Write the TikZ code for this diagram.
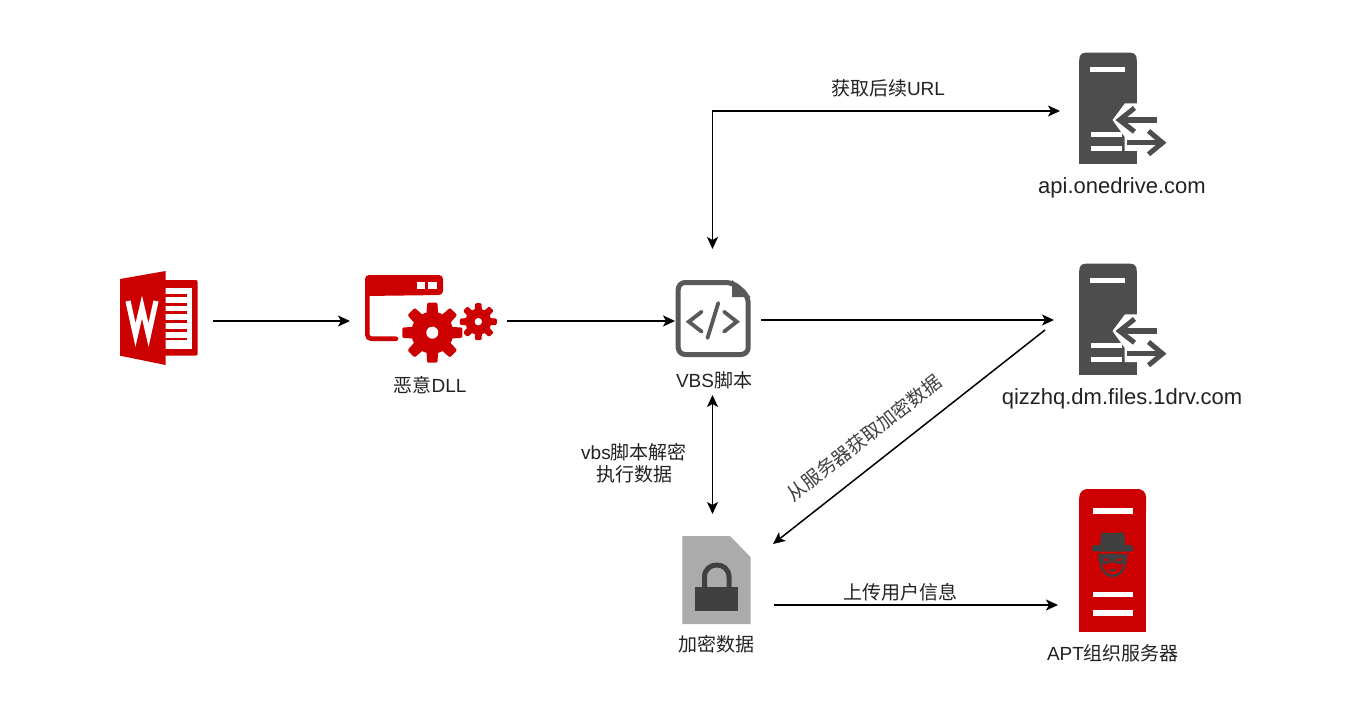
\documentclass[tikz,border=0pt]{standalone}
\usepackage{fontspec}
\usetikzlibrary{arrows.meta}
\setmainfont{Liberation Sans}
\newfontfamily\cjk{Noto Sans CJK SC}
\definecolor{wred}{HTML}{CC0000}
\definecolor{sgrey}{HTML}{4D4D4D}
\definecolor{cgrey}{HTML}{595959}
\definecolor{lgrey}{HTML}{ABABAB}
\definecolor{dgrey}{HTML}{404040}
\definecolor{tcol}{HTML}{222222}
\newcommand{\serverglyph}{%
  \fill[sgrey,rounded corners=6] (1079.3,80) -- (1079.3,52.7) -- (1136.7,52.7) -- (1136.7,80) -- cycle;
  \fill[sgrey] (1079.3,60) rectangle (1136.7,164);
  \fill[white] (1137.5,103.3) -- (1125,103.3) -- (1112.5,120) -- (1124.7,137) -- (1124.7,151) -- (1137.5,151) -- cycle;
  \fill[white] (1090,67.2) rectangle (1125,71.8);
  \fill[white] (1091,132) rectangle (1121.7,136.6);
  \fill[white] (1091,146) rectangle (1121.7,150.6);
  \draw[sgrey,line width=5.5] (1122,120) -- (1156.7,120);
  \draw[sgrey,line width=5] (1134.5,108) -- (1119.5,120) -- (1134.5,131.7);
  \draw[sgrey,line width=5.5] (1126.5,142.7) -- (1160,142.7);
  \draw[sgrey,line width=5] (1148.5,131) -- (1162.5,142.7) -- (1148.5,154.3);
}
\newcommand{\gearglyph}[5]{% x y outer root hole
  \fill[wred] (#1,#2) circle[radius=#4 pt];
  \foreach \a in {0,45,...,315}{
    \fill[wred,rounded corners=1.2,shift={(#1,#2)},rotate=\a]
      (-#3*0.2,#4*0.8) -- (-#3*0.17,#3) -- (#3*0.17,#3) -- (#3*0.2,#4*0.8) -- cycle;
  }
  \fill[white] (#1,#2) circle[radius=#5 pt];
}
\tikzset{
  arrowline/.style={draw=black,line width=1.5,-{Stealth[length=12,width=11,inset=3]}},
  biline/.style={draw=black,line width=1.5,{Stealth[length=12,width=11,inset=3]}-{Stealth[length=12,width=11,inset=3]}},
  iconbox/.style={inner sep=0,outer sep=0,minimum width=#1},
  caption/.style={text=tcol,inner sep=0,font=\fontsize{19}{22}\selectfont,align=center},
  hostname/.style={text=tcol,inner sep=0,font=\fontsize{22}{25}\selectfont},
}
\begin{document}
\begin{tikzpicture}[x=1pt,y=-1pt]
\useasboundingbox[fill=white] (0,0) rectangle (1348,703);

% Word icon
\fill[wred,rounded corners=2] (160,280) -- (197.7,280) -- (197.7,355.7) -- (160,355.7) -- cycle;
\fill[white] (164.3,287.7) rectangle (192.3,349);
\foreach \yy in {295.7,304.3,312.7,321.7,330.3,339}{\fill[wred] (164.3,\yy-1.4) rectangle (186.7,\yy+1.4);}
\fill[wred] (120,279) -- (165.7,271) -- (165.7,365) -- (120,355.7) -- cycle;
\draw[white,line width=5.2,line join=miter] (128,301) -- (135.5,335) -- (142,307) -- (148.5,335) -- (156,301);

% DLL icon
\fill[wred,rounded corners=4] (365,296) -- (365,275) -- (443,275) -- (443,295) -- cycle;
\draw[wred,line width=4.6,rounded corners=4,line cap=round] (367.3,290) -- (367.3,338.7) -- (396,338.7);
\fill[white] (416.7,281.7) rectangle (425,289.3);
\fill[white] (428,281.7) rectangle (436.7,289.3);
\gearglyph{432.3}{332.7}{30}{21}{6}
\gearglyph{478.3}{321.7}{18.5}{13}{3.7}

% VBS icon
\fill[cgrey] (732,280) -- (750.7,297) -- (732,297) -- cycle;
\draw[cgrey,line width=5,rounded corners=7,line join=round] (733,282.5) -- (678.2,282.5) -- (678.2,354.5) -- (748.2,354.5) -- (748.2,296) -- cycle;
\draw[cgrey,line width=3.8,line cap=round,line join=miter] (701.7,311.7) -- (688.8,321.7) -- (701.7,331.7);
\draw[cgrey,line width=3.8,line cap=round,line join=miter] (724,311.7) -- (736.8,321.7) -- (724,331.7);
\draw[cgrey,line width=3.8,line cap=round] (718.3,303) -- (707.5,338);

% servers
\serverglyph
\begin{scope}[shift={(0,211)}]\serverglyph\end{scope}

% encrypted data icon
\fill[lgrey] (682.3,536) -- (730,536) -- (750.7,557.3) -- (750.7,624) -- (682.3,624) -- cycle;
\fill[dgrey] (695,586.7) rectangle (738.3,611);
\draw[dgrey,line width=5] (704.5,587) -- (704.5,577) .. controls (704.5,561) and (729,561) .. (729,577) -- (729,587);

% APT server
\fill[wred,rounded corners=8] (1079.3,520) -- (1079.3,489) -- (1146,489) -- (1146,520) -- cycle;
\fill[wred] (1079.3,498) rectangle (1146,632);
\fill[white] (1092.7,508) rectangle (1132.7,514);
\fill[white] (1092.7,591.7) rectangle (1132.7,597.3);
\fill[white] (1092.7,610) rectangle (1132.7,616);
\fill[dgrey,rounded corners=2] (1100,548) -- (1101.5,532) -- (1112.7,533.5) -- (1124,532) -- (1125.7,548) -- cycle;
\fill[dgrey,rounded corners=3] (1091.7,545) rectangle (1133.3,551.7);
\draw[dgrey,line width=2.4] (1099.3,554) .. controls (1100,570) and (1106,576) .. (1112.7,576) .. controls (1119.5,576) and (1125.5,570) .. (1126.2,554);
\fill[dgrey] (1099,555) .. controls (1106,553) and (1119,553) .. (1126.5,555) -- (1125.5,562) .. controls (1120,566) and (1115,564) .. (1112.7,561) .. controls (1110,564) and (1105,566) .. (1100,562) -- cycle;
\fill[wred] (1103.5,558) -- (1110,560) -- (1105,561.5) -- cycle;
\fill[wred] (1122,558) -- (1115.5,560) -- (1120.5,561.5) -- cycle;
\fill[dgrey] (1112.7,570) ellipse[x radius=3.5pt,y radius=1.3pt];

% icon anchors
\node[iconbox=108,minimum height=100] (word) at (159,321) {};
\node[iconbox=157,minimum height=70] (dll) at (428.5,321) {};
\node[iconbox=86,minimum height=146,anchor=center] (vbs) at (712.5,322) {};
\node[iconbox=60,minimum height=119] (data) at (712.5,573.5) {};
\coordinate (vbsE) at (761,320);
\coordinate (vbsW) at (675,321);
\coordinate (api) at (1060,111);
\coordinate (qizz) at (1054,320);
\coordinate (qizzSW) at (1045,330);
\coordinate (dataNE) at (773,544);
\coordinate (dataE) at (774,605);
\coordinate (apt) at (1058,605);

% connectors
\draw[arrowline] (word.east) -- (dll.west);
\draw[arrowline] (dll.east) -- (vbsW);
\draw[arrowline] (vbsE) -- (qizz);
\draw[biline] (vbs.north) |- (api);
\draw[biline] (vbs.south) -- (data.north);
\draw[arrowline] (qizzSW) -- (dataNE);
\draw[arrowline] (dataE) -- (apt);

% labels
\node[caption] (lurl) at (888,88) {{\cjk 获取后续}URL};
\node[caption] (lup) at (900,592) {{\cjk 上传用户信息}};
\node[caption,rotate=38.2,text=dgrey] (ldown) at (864,438) {{\cjk 从服务器获取加密数据}};
\node[caption] (ldec) at (634,463) {vbs{\cjk 脚本解密}\\{\cjk 执行数据}};
\node[caption] (lvbs) at (714,380) {VBS{\cjk 脚本}};
\node[caption] (ldll) at (430,385) {{\cjk 恶意}DLL};
\node[caption] (ldata) at (716,644) {{\cjk 加密数据}};
\node[caption] (lapt) at (1113,653) {APT{\cjk 组织服务器}};
\node[hostname] (lapi) at (1122,188) {api.onedrive.com};
\node[hostname] (lqizz) at (1122,399) {qizzhq.dm.files.1drv.com};
\end{tikzpicture}
\end{document}
